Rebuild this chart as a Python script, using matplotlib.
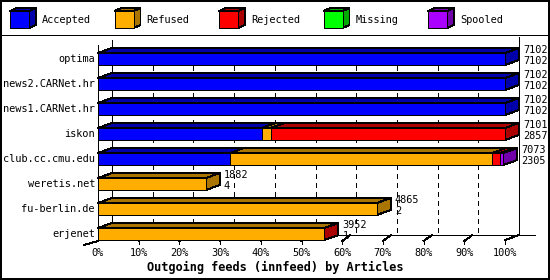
import matplotlib
matplotlib.use("Agg")
import matplotlib.pyplot as plt
from matplotlib.patches import Polygon, Rectangle

# ---------------- data ----------------
hosts = ["optima", "news2.CARNet.hr", "news1.CARNet.hr", "iskon",
         "club.cc.cmu.edu", "weretis.net", "fu-berlin.de", "erjenet"]
offered = [7102, 7102, 7102, 7101, 7073, 1882, 4865, 3952]
accepted = [7102, 7102, 7102, 2857, 2305, 4, 2, 1]
refused = [0, 0, 0, 155, 4572, 1878, 4863, 3941]
rejected = [0, 0, 0, 4089, 140, 0, 0, 10]
missing = [0, 0, 0, 0, 0, 0, 0, 0]
spooled = [0, 0, 0, 0, 56, 0, 0, 0]
series_names = ["Accepted", "Refused", "Rejected", "Missing", "Spooled"]
tick_pcts = [0, 10, 20, 30, 40, 50, 60, 70, 80, 90, 100]
title = "Outgoing feeds (innfeed) by Articles"

# ---------------- style ----------------
face = ["#0000FF", "#FFAE00", "#FF0000", "#00FF00", "#AA00FF"]
dark = ["#0000AA", "#AA7400", "#AA0000", "#00AA00", "#7100AA"]
W, H = 550, 280
X0_PX, PX_PER_PCT = 98, 4.07      # 0% front position and scale
Y0_PX, PX_PER_ROW = 59, 25
DX = 14 / PX_PER_PCT               # 3D depth in x (pct units)
DY = 5 / PX_PER_ROW                # 3D depth in y (row units)
HB = 6 / PX_PER_ROW                # half bar height
LW = 0.7
mono = "DejaVu Sans Mono"
FS = 7.4

def px_x(px):
    return (px - X0_PX) / PX_PER_PCT

def px_y(py):
    return (py - Y0_PX) / PX_PER_ROW

fig = plt.figure(figsize=(W / 100, H / 100), dpi=100)
fig.patch.set_facecolor("white")
ax = fig.add_axes([0, 0, 1, 1])
ax.set_xlim(px_x(0), px_x(W))
ax.set_ylim(px_y(H), px_y(0))
ax.axis("off")

# ---------------- background grid ----------------
floor_back = len(hosts) - 1 + HB - DY
top_back = -HB - DY
for p in tick_pcts[1:-1]:
    ax.plot([p + DX, p + DX], [top_back, floor_back], color="black", lw=LW,
            ls=(0, (5, 5)), zorder=1, antialiased=False)
ax.plot([DX, DX], [px_y(40), floor_back], color="black", lw=LW, zorder=1, antialiased=False)
ax.plot([100 + DX, 100 + DX], [px_y(37), floor_back], color="black", lw=LW, zorder=1,
        antialiased=False)
ax.plot([DX, px_x(535)], [floor_back, floor_back], color="black", lw=LW, zorder=1,
        antialiased=False)
floor_front = len(hosts) - 1 + HB
for p in tick_pcts[1:-1]:
    ax.plot([p, p + 7 / PX_PER_PCT], [floor_front + 1 / PX_PER_ROW, floor_back + 1 / PX_PER_ROW],
            color="black", lw=LW, zorder=1, antialiased=False)
    ax.plot([p + 8 / PX_PER_PCT], [floor_back], marker="s", ms=1.6, color="black",
            zorder=1, lw=0, mew=0, antialiased=False)
ax.plot([100, 100 + DX], [floor_front, floor_back], color="black", lw=LW, zorder=1,
        antialiased=False)

# ---------------- bars ----------------
maxv = max(offered)
series = [accepted, refused, rejected, missing, spooled]
for i, host in enumerate(hosts):
    yt, yb = i - HB, i + HB
    left = 0.0
    last = None
    for s, vals in enumerate(series):
        w = vals[i] / maxv * 100
        if w <= 0:
            continue
        r = left + w
        ax.add_patch(Polygon([(left, yt), (r, yt), (r + DX, yt - DY), (left + DX, yt - DY)],
                             closed=True, facecolor=dark[s], edgecolor="black", lw=LW,
                             zorder=3, antialiased=False))
        ax.add_patch(Rectangle((left, yt), w, yb - yt, facecolor=face[s],
                               edgecolor="black", lw=LW, zorder=4, antialiased=False))
        last = s
        left = r
    ax.add_patch(Polygon([(left, yt), (left + DX, yt - DY), (left + DX, yb - DY), (left, yb)],
                         closed=True, facecolor=dark[last], edgecolor="black", lw=LW,
                         zorder=3, antialiased=False))
    lx = left + DX + 4 / PX_PER_PCT
    ax.text(lx, i - 9 / PX_PER_ROW, str(offered[i]), ha="left", va="center",
            family=mono, fontsize=FS, zorder=6)
    ax.text(lx, i + 2 / PX_PER_ROW, str(accepted[i]), ha="left", va="center",
            family=mono, fontsize=FS, zorder=6)
    ax.text(px_x(95), i, host, ha="right", va="center", family=mono, fontsize=FS)

# ---------------- axes ----------------
ax.plot([0, 0], [px_y(45), floor_front + 1 / PX_PER_ROW], color="black", lw=LW, zorder=5,
        antialiased=False)
ax.plot([0, -DX], [floor_front + 1 / PX_PER_ROW, floor_front + 5 / PX_PER_ROW],
        color="black", lw=LW, zorder=5, antialiased=False)
for p in tick_pcts:
    if p > 0:
        ax.plot([p, p], [floor_front + 1 / PX_PER_ROW, floor_front + 4 / PX_PER_ROW],
                color="black", lw=LW, zorder=5, antialiased=False)
    ax.text(p, px_y(253), f"{p}%", ha="center", va="center", family=mono, fontsize=FS)

fig.text(0.5, 1 - 267 / H, title, ha="center", va="center", family=mono,
         fontsize=8.6, fontweight="bold")

# ---------------- legend ----------------
lax = fig.add_axes([0, 0, 1, 1])
lax.set_xlim(0, W)
lax.set_ylim(H, 0)
lax.axis("off")
lax.patch.set_alpha(0)
for j, name in enumerate(series_names):
    x0 = 10 + 104.5 * j
    fx0, fx1, fy0, fy1 = x0, x0 + 19, 11, 28
    ddx, ddy = 7, 3
    lax.add_patch(Polygon([(fx0, fy0), (fx1, fy0), (fx1 + ddx, fy0 - ddy), (fx0 + ddx, fy0 - ddy)],
                          closed=True, facecolor=dark[j], edgecolor="black", lw=LW,
                          antialiased=False))
    lax.add_patch(Polygon([(fx1, fy0), (fx1 + ddx, fy0 - ddy), (fx1 + ddx, fy1 - ddy), (fx1, fy1)],
                          closed=True, facecolor=dark[j], edgecolor="black", lw=LW,
                          antialiased=False))
    lax.add_patch(Rectangle((fx0, fy0), 19, 17, facecolor=face[j], edgecolor="black",
                            lw=LW, antialiased=False))
    lax.text(x0 + 32, 20, name, ha="left", va="center", family=mono, fontsize=FS)
lax.plot([0, W], [35, 35], color="black", lw=LW, antialiased=False)
lax.add_patch(Rectangle((0.5, 0.5), W - 1.5, H - 1.5, fill=False, edgecolor="black",
                        lw=1.2, antialiased=False))

fig.savefig("out.png", dpi=100)
